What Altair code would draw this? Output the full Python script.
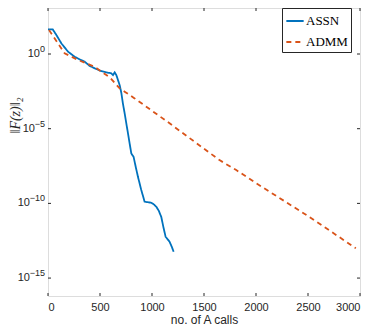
import altair as alt
import pandas as pd

# ASSN: x = no. of A calls, y = ||F(z)||_2
assn_x = [0, 45, 80, 129, 192, 256, 300, 352, 400, 450, 513, 560, 609, 625, 641, 657, 673,
          690, 705, 720, 737, 769, 801, 823, 845, 865, 897, 929, 960, 993, 1020, 1041,
          1065, 1089, 1110, 1131, 1150, 1169, 1190, 1208]
assn_y = [4.5e1, 4.5e1, 1.9e1, 5.1e0, 1.45e0, 6.6e-1, 4.5e-1, 3.1e-1, 1.6e-1, 1.1e-1,
          7.1e-2, 6.0e-2, 5.0e-2, 3.9e-2, 5.9e-2, 3.9e-2, 1.8e-2, 7.9e-3, 2.5e-3, 5.0e-4,
          1.07e-4, 4.9e-6, 2.2e-7, 1.3e-7, 2.5e-8, 6.0e-9, 7.8e-10, 1.3e-10, 1.2e-10,
          1.1e-10, 8.3e-11, 6.0e-11, 3.2e-11, 1.26e-11, 2.5e-12, 5.8e-13, 4.0e-13,
          2.7e-13, 1.26e-13, 5.8e-14]

# ADMM
admm_x = [10, 160, 288, 448, 600, 689, 737, 833, 1169, 1264, 1649, 1810, 2003, 2485, 2960]
admm_y = [4.0e1, 1.12e0, 4.0e-1, 1.4e-1, 2.5e-2, 5.0e-3, 3.0e-3, 1.07e-3, 2.3e-5,
          7.4e-6, 7.9e-8, 1.7e-8, 2.2e-9, 1.66e-11, 1.0e-13]

series = ["ASSN", "ADMM"]
x_ticks = [0, 500, 1000, 1500, 2000, 2500, 3000]
y_ticks = [1e0, 1e-5, 1e-10, 1e-15]
y_exponents = ["0", "−5", "−10", "−15"]

df = pd.concat([
    pd.DataFrame({"x": assn_x, "y": assn_y, "s": "ASSN", "o": range(len(assn_x))}),
    pd.DataFrame({"x": admm_x, "y": admm_y, "s": "ADMM", "o": range(len(admm_x))}),
])

W, H = 312, 288
TXT = "#262626"
xs = alt.Scale(domain=[0, 3000], nice=False, zero=False)
ys = alt.Scale(type="log", domain=[10 ** -16.2, 10 ** 3.08], nice=False)

leg = dict(title=None, orient="none", legendX=234, legendY=0,
           symbolType="stroke", symbolSize=300, symbolStrokeWidth=1.8,
           labelFont="Liberation Serif", labelFontSize=13, labelColor="#000000",
           labelOffset=1, strokeColor=TXT, fillColor="white", padding=3, rowPadding=4)

lines = alt.Chart(df).mark_line(strokeWidth=1.8, clip=True).encode(
    x=alt.X("x:Q", scale=xs,
            axis=alt.Axis(values=x_ticks, format="d", ticks=False, domain=False, grid=False,
                          labelPadding=5, labelFontSize=11, labelColor=TXT,
                          labelFont="Liberation Sans",
                          title="no. of A calls", titleFontSize=12, titleFontWeight="normal",
                          titleFont="Liberation Sans", titleColor=TXT, titlePadding=2)),
    y=alt.Y("y:Q", scale=ys,
            axis=alt.Axis(values=y_ticks, ticks=False, domain=False, grid=False, labels=False,
                          title="‖F(z)‖₂", titleFont="Liberation Serif", titleFontStyle="italic",
                          titleFontSize=14, titleFontWeight="normal", titleColor=TXT,
                          titleX=-33, titleY=107, titleAlign="center", titleBaseline="middle")),
    color=alt.Color("s:N", scale=alt.Scale(domain=series, range=["#0072BD", "#D95319"]),
                    legend=alt.Legend(**leg)),
    strokeDash=alt.StrokeDash("s:N", scale=alt.Scale(domain=series, range=[[1, 0], [5, 4]]),
                              legend=alt.Legend(**leg)),
    order="o:Q",
)

xt = pd.DataFrame({"x": x_ticks})
yt = pd.DataFrame({"y": y_ticks, "e": y_exponents})
xb = alt.Chart(xt).mark_rule(color=TXT, strokeWidth=1).encode(
    x=alt.X("x:Q", scale=xs), y=alt.value(H), y2=alt.value(H - 3))
xtop = alt.Chart(xt).mark_rule(color=TXT, strokeWidth=1).encode(
    x=alt.X("x:Q", scale=xs), y=alt.value(0), y2=alt.value(3))
yl = alt.Chart(yt).mark_rule(color=TXT, strokeWidth=1).encode(
    y=alt.Y("y:Q", scale=ys), x=alt.value(0), x2=alt.value(3))
yr = alt.Chart(yt).mark_rule(color=TXT, strokeWidth=1).encode(
    y=alt.Y("y:Q", scale=ys), x=alt.value(W - 3), x2=alt.value(W))

# tick labels 10^k drawn as base + raised exponent
exp_lab = alt.Chart(yt).mark_text(align="right", baseline="middle", dy=-5, fontSize=9,
                                  font="Liberation Sans", color=TXT).encode(
    y=alt.Y("y:Q", scale=ys), x=alt.value(-3), text="e:N")
base_lab = alt.Chart(yt).transform_calculate(
    px="-3 - 5.0*length(datum.e)"
).mark_text(align="right", baseline="middle", fontSize=11,
            font="Liberation Sans", color=TXT).encode(
    y=alt.Y("y:Q", scale=ys), x=alt.X("px:Q", scale=None), text=alt.value("10"))

chart = alt.layer(lines, xb, xtop, yl, yr, exp_lab, base_lab).properties(
    width=W, height=H,
    autosize=alt.AutoSizeParams(type="none"),
    padding={"left": 40, "top": 0, "right": 6, "bottom": 36},
).configure_view(stroke="#4a4a4a", strokeWidth=1).configure(background="white")

chart.save("out.html", embed_options={"renderer": "svg", "actions": False})
